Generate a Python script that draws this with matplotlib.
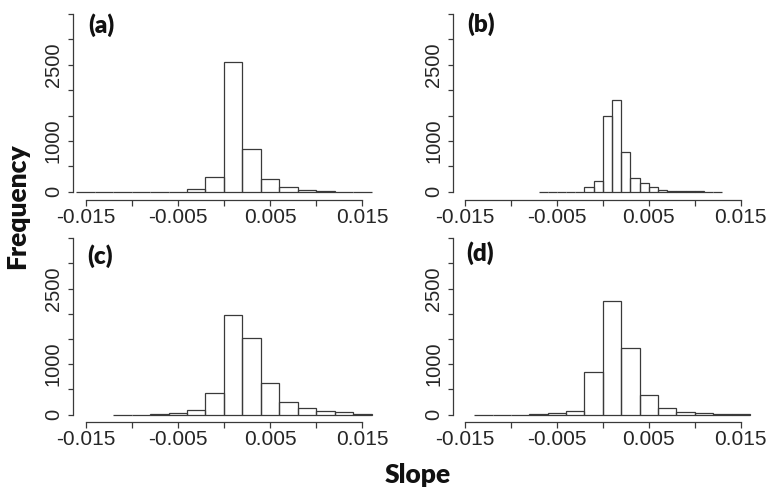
import numpy as np
import matplotlib
matplotlib.use('Agg')
import matplotlib.pyplot as plt

# histogram counts, one bin per entry
BREAKS_A = np.round(np.arange(-0.016, 0.0161, 0.002), 4)
COUNTS_A = [0, 0, 0, 0, 0, 3, 52, 289, 2560, 834, 243, 92, 30, 13, 2, 1]

BREAKS_B = np.round(np.arange(-0.007, 0.01301, 0.001), 4)
COUNTS_B = [0, 0, 0, 0, 3, 85, 210, 1493, 1814, 786, 275, 165, 85, 39, 20, 12,
            20, 4, 2, 1]

BREAKS_C = np.round(np.arange(-0.012, 0.0161, 0.002), 4)
COUNTS_C = [0, 0, 2, 20, 90, 428, 1974, 1520, 625, 257, 125, 66, 46, 3]

BREAKS_D = np.round(np.arange(-0.014, 0.0161, 0.002), 4)
COUNTS_D = [0, 0, 0, 2, 39, 72, 835, 2263, 1329, 388, 132, 46, 22, 3, 1]

PANEL_LABELS = ['(a)', '(b)', '(c)', '(d)']
XTICKS = [-0.015, -0.010, -0.005, 0.0, 0.005, 0.010, 0.015]
XTICKLABELS = ['-0.015', '', '-0.005', '', '0.005', '', '0.015']
YTICKS = [0, 500, 1000, 1500, 2000, 2500, 3000, 3500]
YTICKLABELS = ['0', '', '1000', '', '', '2500', '', '']

W, H = 772, 492
DPI = 100
LINE = '#3a3a3a'
TXT = '#262626'

# pixel layout: x of -0.015 tick, x of 0.015 tick, y of 0, y of 3500,
# x of y-axis line, y of x-axis line, label centre
panels = [
    (BREAKS_A, COUNTS_A, 85.5, 362.3, 191.7, 14.0, 73.0, 199.5, (101, 25)),
    (BREAKS_B, COUNTS_B, 465.0, 740.7, 191.7, 14.0, 453.3, 199.5, (481, 24)),
    (BREAKS_C, COUNTS_C, 85.5, 362.3, 414.5, 238.3, 73.0, 422.3, (100, 256)),
    (BREAKS_D, COUNTS_D, 465.0, 740.7, 414.5, 238.3, 453.3, 422.3, (480, 253)),
]

fig = plt.figure(figsize=(W / DPI, H / DPI), dpi=DPI)
px2pt = 72.0 / DPI

for i, (br, cnt, x0, x1, y0, y1, yax, xax, lab) in enumerate(panels):
    ax = fig.add_axes([x0 / W, 1 - y0 / H, (x1 - x0) / W, (y0 - y1) / H])
    ax.set_xlim(-0.015, 0.015)
    ax.set_ylim(0, 3500)
    ax.patch.set_alpha(0)
    ax.bar(br[:-1], cnt, width=np.diff(br), align='edge', fill=False,
           edgecolor=LINE, linewidth=0.9, clip_on=False)

    for s in ['top', 'right']:
        ax.spines[s].set_visible(False)
    ax.spines['left'].set_position(('outward', (x0 - yax) * px2pt))
    ax.spines['bottom'].set_position(('outward', (xax - y0) * px2pt))
    ax.spines['left'].set_bounds(0, 3500)
    ax.spines['bottom'].set_bounds(-0.015, 0.015)
    for s in ['left', 'bottom']:
        ax.spines[s].set_color(LINE)
        ax.spines[s].set_linewidth(0.9)

    ax.set_xticks(XTICKS)
    ax.set_xticklabels(XTICKLABELS, fontfamily='Liberation Sans', fontsize=15,
                       color=TXT)
    ax.set_yticks(YTICKS)
    ax.set_yticklabels(YTICKLABELS, fontfamily='Liberation Sans', fontsize=14.5,
                       color=TXT, rotation=90, va='center')
    ax.tick_params(axis='x', length=4.3, width=0.9, color=LINE, pad=1.5)
    ax.tick_params(axis='y', length=3.8, width=0.9, color=LINE, pad=3.5)

    fig.text(lab[0] / W, 1 - lab[1] / H, PANEL_LABELS[i], fontfamily='Lato',
             fontweight='heavy', fontsize=17.5, color='#111111', ha='center',
             va='center')

fig.text(17 / W, 1 - 206 / H, 'Frequency', fontfamily='Lato', fontweight='heavy',
         fontsize=19, color='#111111', rotation=90, ha='center', va='center')
fig.text(418 / W, 1 - 475 / H, 'Slope', fontfamily='Lato', fontweight='heavy',
         fontsize=19, color='#111111', ha='center', va='center')

fig.savefig('out.png', dpi=DPI)
